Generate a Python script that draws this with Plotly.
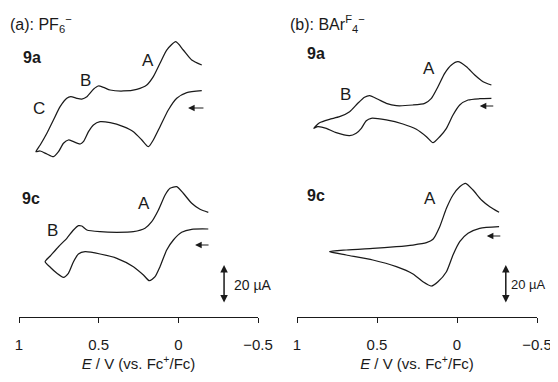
import plotly.graph_objects as go

# ---------------- data (E in V vs Fc+/Fc, current in µA relative to trace baseline) -------------
# (a) PF6-  compound 9a
a9a_E = [-0.147, -0.053, 0.010, 0.063, 0.115, 0.157, 0.188, 0.229, 0.282, 0.345, 0.428, 0.491,
         0.533, 0.564, 0.596, 0.616, 0.658, 0.690, 0.721, 0.752, 0.784, 0.825, 0.867, 0.894,
         0.867, 0.825, 0.784, 0.742, 0.700, 0.675, 0.637, 0.606, 0.574, 0.533, 0.502, 0.470,
         0.428, 0.345, 0.261, 0.198, 0.157, 0.115, 0.073, 0.016, -0.031, -0.084, -0.147]
a9a_I = [6.05, 5.03, 2.15, -3.85, -12.41, -19.23, -22.67, -19.23, -14.97, -12.41, -10.36, -9.85,
         -11.54, -14.97, -20.1, -21.28, -20.1, -19.23, -20.92, -25.23, -27.79, -26.41, -24.87, -25.23,
         -21.79, -15.79, -8.97, -2.15, 2.15, 2.97, 2.15, 1.79, 2.97, 6.77, 8.46, 7.79,
         6.41, 5.9, 6.77, 8.97, 13.23, 20.1, 26.92, 31.18, 26.92, 21.79, 19.23]

# (a) PF6-  compound 9c
a9c_E = [-0.188, -0.084, -0.021, 0.031, 0.073, 0.115, 0.146, 0.182, 0.219, 0.282, 0.386, 0.491,
         0.585, 0.627, 0.658, 0.690, 0.721, 0.762, 0.804, 0.836,
         0.804, 0.752, 0.700, 0.658, 0.627, 0.606, 0.574, 0.491, 0.386, 0.282, 0.209, 0.167,
         0.125, 0.083, 0.052, 0.010, -0.031, -0.084, -0.136, -0.188]
a9c_I = [5.13, 4.97, 3.44, -0.51, -5.64, -14.21, -19.33, -21.38, -18.46, -14.21, -9.9, -7.69,
         -6.51, -7.69, -11.64, -17.59, -19.64, -17.59, -14.51, -11.64,
         -8.72, -3.95, 0.36, 4.62, 6.82, 6.67, 4.62, 3.74, 3.44, 3.74, 5.49, 8.87,
         14.87, 22.56, 26.0, 26.82, 23.44, 18.31, 15.23, 13.69]

# (b) BArF4-  compound 9a
b9a_E = [-0.215, -0.142, -0.069, -0.017, 0.025, 0.066, 0.108, 0.150, 0.191, 0.254, 0.338, 0.442,
         0.536, 0.567, 0.598, 0.630, 0.671, 0.755, 0.817, 0.870, 0.895,
         0.859, 0.797, 0.734, 0.671, 0.620, 0.578, 0.546, 0.494, 0.442, 0.379, 0.275, 0.202,
         0.160, 0.119, 0.077, 0.035, -0.006, -0.059, -0.111, -0.163, -0.215]
b9a_I = [2.15, 1.95, 1.28, -1.28, -6.41, -13.23, -17.54, -20.62, -17.54, -13.74, -11.03, -8.97,
         -8.1, -9.33, -13.23, -15.79, -17.03, -15.49, -13.23, -12.41, -13.23,
         -10.36, -8.62, -7.28, -4.72, -0.41, 2.67, 3.49, 1.64, -0.41, -1.64, -1.28, -0.41,
         2.15, 8.1, 14.97, 19.23, 20.92, 18.36, 14.1, 10.67, 8.97]

# (b) BArF4-  compound 9c
b9c_E = [-0.263, -0.142, -0.069, -0.017, 0.025, 0.066, 0.119, 0.160, 0.213, 0.275, 0.379, 0.526,
         0.692, 0.797,
         0.692, 0.526, 0.379, 0.275, 0.191, 0.150, 0.108, 0.066, 0.025, -0.017, -0.054, -0.100,
         -0.153, -0.205, -0.263]
b9c_I = [6.31, 5.49, 2.92, -1.38, -8.21, -16.77, -21.9, -24.1, -21.9, -17.95, -14.21, -10.77,
         -8.21, -6.51,
         -5.64, -4.77, -3.95, -3.08, -1.9, -0.15, 6.31, 15.74, 22.56, 26.82, 28.56, 25.13,
         20.0, 16.56, 13.69]

tick_vals = [1, 0.5, 0, -0.5]
tick_text = ["1", "0.5", "0", "\u22120.5"]
scale_bar_uA = 20

# ---------------- layout constants ----------------
PAGE_OFF = 8                      # default margin of the HTML body
W, H = 558 - PAGE_OFF, 382 - PAGE_OFF
AXIS_Y = 317                      # page pixel of x-axis line
PLOT_H = AXIS_Y - PAGE_OFF
B = H - PLOT_H
PX_PER_UA = 1.95
Y_SPAN = PLOT_H / PX_PER_UA
OFF_TOP, OFF_BOT = 110, 40
FONT = "Liberation Sans, Arial, sans-serif"
INK = "#1a1a1a"

def px_x(p):
    return (p - PAGE_OFF) / W

fig = go.Figure()
line = dict(color=INK, width=1.25, shape="spline", smoothing=0.6)
for E, I, off, xa, ya in [(a9a_E, a9a_I, OFF_TOP, "x", "y"),
                          (a9c_E, a9c_I, OFF_BOT, "x", "y"),
                          (b9a_E, b9a_I, OFF_TOP, "x2", "y2"),
                          (b9c_E, b9c_I, OFF_BOT, "x2", "y2")]:
    fig.add_trace(go.Scatter(x=E, y=[v + off for v in I], mode="lines", line=line,
                             xaxis=xa, yaxis=ya, hoverinfo="skip", showlegend=False))

xcommon = dict(range=[1, -0.5], showline=True, linecolor=INK, linewidth=1,
               ticks="outside", ticklen=5, tickwidth=1, tickcolor=INK,
               tickvals=tick_vals, ticktext=tick_text, ticklabelstandoff=9,
               tickfont=dict(family=FONT, size=15, color=INK),
               showgrid=False, zeroline=False, automargin=False,
               title=dict(text="<i>E</i> / V (vs. Fc<sup>+</sup>/Fc)",
                          font=dict(family=FONT, size=15, color=INK), standoff=6))
ycommon = dict(range=[0, Y_SPAN], visible=False, showgrid=False, zeroline=False, automargin=False)

fig.update_layout(
    width=W, height=H, margin=dict(l=0, r=0, t=0, b=B, autoexpand=False),
    paper_bgcolor="white", plot_bgcolor="white",
    xaxis=dict(domain=[px_x(19), px_x(258)], anchor="y", **xcommon),
    xaxis2=dict(domain=[px_x(297), px_x(537)], anchor="y2", **xcommon),
    yaxis=dict(anchor="x", **ycommon),
    yaxis2=dict(anchor="x2", **ycommon),
)

def yv(page_px):
    return (AXIS_Y - page_px) / PX_PER_UA

ann = []
def txt(xr, yr, x, y, s, size=16, bold=False, xanchor="center"):
    ann.append(dict(xref=xr, yref=yr, x=x, y=y, text=s, showarrow=False, xanchor=xanchor,
                    yanchor="middle", font=dict(family=FONT, size=size, color=INK,
                                                weight="bold" if bold else "normal")))

# panel titles
txt("paper", "y", 0.0, yv(24), "(a): PF<sub>6</sub><sup>\u2212</sup>", size=16, xanchor="left")
txt("paper", "y2", px_x(288), yv(24), "(b): BAr<sup>F</sup><sub>4</sub><sup>\u2212</sup>",
    size=16, xanchor="left")
# compound labels
txt("x", "y", 0.986, yv(57), "9a", bold=True, xanchor="left")
txt("x", "y", 0.992, yv(198), "9c", bold=True, xanchor="left")
txt("x2", "y2", 0.953, yv(53), "9a", bold=True, xanchor="left")
txt("x2", "y2", 0.953, yv(195), "9c", bold=True, xanchor="left")
# peak labels
txt("x", "y", 0.19, yv(60), "A", size=17)
txt("x", "y", 0.585, yv(80), "B", size=17)
txt("x", "y", 0.873, yv(108), "C", size=17)
txt("x", "y", 0.215, yv(203), "A", size=17)
txt("x", "y", 0.792, yv(230), "B", size=17)
txt("x2", "y2", 0.177, yv(68), "A", size=17)
txt("x2", "y2", 0.697, yv(94), "B", size=17)
txt("x2", "y2", 0.171, yv(198), "A", size=17)

# scan-direction arrows
for xr, yr, xh, xt, ypx in [("x", "y", -0.061, -0.167, 108), ("x", "y", -0.105, -0.199, 245),
                            ("x2", "y2", -0.142, -0.236, 106), ("x2", "y2", -0.186, -0.280, 236)]:
    ann.append(dict(xref=xr, yref=yr, axref=xr, ayref=yr, x=xh, y=yv(ypx), ax=xt, ay=yv(ypx),
                    text="", showarrow=True, arrowhead=2, arrowsize=1.1, arrowwidth=1.2,
                    arrowcolor=INK))

# 20 µA scale bars
for xr, yr, xb, ybot in [("x", "y", -0.287, 304), ("x2", "y2", -0.305, 304)]:
    y0 = yv(ybot)
    ann.append(dict(xref=xr, yref=yr, axref=xr, ayref=yr, x=xb, y=y0 + scale_bar_uA, ax=xb, ay=y0,
                    text="", showarrow=True, arrowhead=2, arrowside="end+start", arrowsize=1.0,
                    arrowwidth=1.5, arrowcolor=INK))
txt("x", "y", -0.337, yv(304) + scale_bar_uA / 2, f"{scale_bar_uA} \u00b5A", size=14,
    xanchor="left")
txt("paper", "y2", px_x(548), yv(304) + scale_bar_uA / 2, f"{scale_bar_uA} \u00b5A", size=13,
    xanchor="right")

fig.update_layout(annotations=ann)
fig.write_html("out.html", default_width=f"{W}px", default_height=f"{H}px",
               post_script="document.documentElement.style.overflow='hidden';"
                           "document.body.style.overflow='hidden';")
